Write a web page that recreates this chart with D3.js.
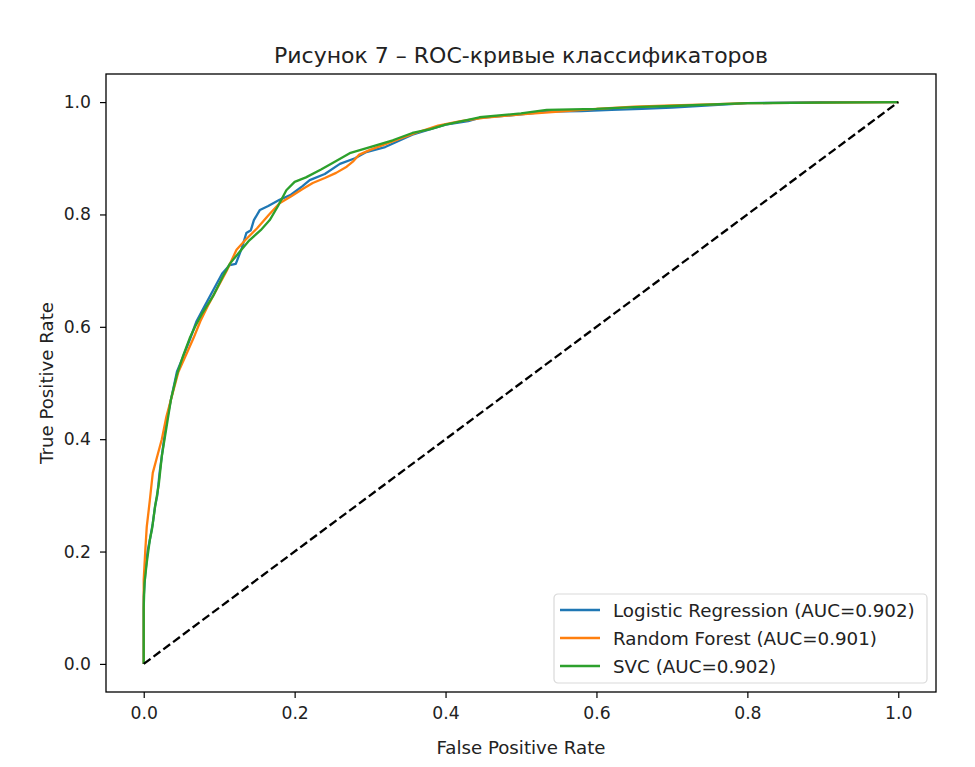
<!DOCTYPE html>
<html>
<head>
<meta charset="utf-8">
<script src="https://cdn.jsdelivr.net/npm/d3@7"></script>
<style>
  body { margin: 0; background: #fff; }
  text { font-family: "DejaVu Sans", sans-serif; fill: #222; }
</style>
</head>
<body>
<div id="chart"></div>
<script>
// ROC points: [fpr, tpr]
var logRegRoc = [[0,0],[0,0.12],[0.002,0.16],[0.005,0.2],[0.008,0.22],[0.012,0.25],[0.015,0.28],[0.018,0.3],[0.021,0.34],[0.025,0.38],[0.03,0.43],[0.036,0.47],[0.044,0.52],[0.052,0.546],[0.061,0.577],[0.07,0.61],[0.08,0.635],[0.092,0.665],[0.104,0.695],[0.114,0.71],[0.122,0.712],[0.13,0.74],[0.136,0.767],[0.142,0.772],[0.146,0.79],[0.154,0.808],[0.165,0.815],[0.18,0.826],[0.195,0.835],[0.21,0.85],[0.22,0.861],[0.24,0.872],[0.26,0.89],[0.28,0.9],[0.295,0.911],[0.32,0.92],[0.356,0.942],[0.38,0.952],[0.4,0.96],[0.43,0.966],[0.445,0.972],[0.5,0.978],[0.534,0.983],[0.58,0.984],[0.62,0.986],[0.66,0.988],[0.7,0.99],[0.75,0.994],[0.8,0.998],[0.85,0.999],[0.9,1],[1,1]];
var forestRoc = [[0,0],[0,0.15],[0.002,0.2],[0.004,0.244],[0.008,0.29],[0.012,0.34],[0.018,0.37],[0.024,0.4],[0.03,0.44],[0.038,0.48],[0.046,0.52],[0.056,0.55],[0.066,0.58],[0.075,0.61],[0.086,0.64],[0.098,0.67],[0.11,0.7],[0.123,0.737],[0.135,0.755],[0.15,0.775],[0.165,0.798],[0.18,0.82],[0.195,0.832],[0.21,0.845],[0.224,0.856],[0.24,0.865],[0.255,0.874],[0.269,0.885],[0.278,0.895],[0.285,0.906],[0.3,0.915],[0.33,0.93],[0.36,0.945],[0.39,0.958],[0.42,0.966],[0.45,0.972],[0.5,0.978],[0.55,0.983],[0.6,0.988],[0.65,0.992],[0.7,0.994],[0.75,0.996],[0.8,0.998],[0.9,0.999],[1,1]];
var svcRoc = [[0,0],[0,0.1],[0.001,0.144],[0.004,0.18],[0.008,0.22],[0.011,0.24],[0.015,0.28],[0.02,0.32],[0.024,0.37],[0.03,0.42],[0.036,0.47],[0.044,0.515],[0.052,0.548],[0.061,0.58],[0.068,0.6],[0.078,0.625],[0.092,0.655],[0.105,0.69],[0.114,0.712],[0.125,0.73],[0.14,0.754],[0.155,0.772],[0.167,0.79],[0.178,0.815],[0.189,0.843],[0.2,0.858],[0.215,0.866],[0.235,0.88],[0.255,0.895],[0.273,0.909],[0.3,0.92],[0.33,0.932],[0.356,0.945],[0.38,0.952],[0.4,0.96],[0.445,0.973],[0.5,0.98],[0.534,0.986],[0.6,0.988],[0.65,0.991],[0.7,0.993],[0.8,0.998],[0.9,0.999],[1,1]];
var chanceLine = [[0,0],[1,1]];

var seriesNames = ["Logistic Regression (AUC=0.902)", "Random Forest (AUC=0.901)", "SVC (AUC=0.902)"];
var seriesColors = ["#1f77b4", "#ff7f0e", "#2ca02c"];
var tickValues = [0, 0.2, 0.4, 0.6, 0.8, 1.0];

var svgWidth = 975;
var svgHeight = 767;

var margin = { top: 74, right: 39, bottom: 75, left: 106 };
var width = svgWidth - margin.left - margin.right;
var height = svgHeight - margin.top - margin.bottom;

var svg = d3.select("#chart")
    .append("svg")
    .attr("width", svgWidth)
    .attr("height", svgHeight);

var chartGroup = svg.append("g")
    .attr("transform", `translate(${margin.left}, ${margin.top})`);

var xScale = d3.scaleLinear().domain([-0.05, 1.05]).range([0, width]);
var yScale = d3.scaleLinear().domain([-0.05, 1.05]).range([height, 0]);

// axes
var bottomAxis = d3.axisBottom(xScale).tickValues(tickValues).tickFormat(d3.format(".1f")).tickSize(6).tickPadding(9);
var leftAxis = d3.axisLeft(yScale).tickValues(tickValues).tickFormat(d3.format(".1f")).tickSize(6).tickPadding(9);

var xAxis = chartGroup.append("g")
    .attr("transform", `translate(0, ${height})`)
    .call(bottomAxis);
var yAxis = chartGroup.append("g")
    .call(leftAxis);

[xAxis, yAxis].forEach(function (ax) {
    ax.select(".domain").remove();
    ax.selectAll("line").attr("stroke", "#000").attr("stroke-width", 1.2);
    ax.selectAll("text").style("font-size", "17.2px").attr("fill", "#222");
});

var line = d3.line()
    .x(d => xScale(d[0]))
    .y(d => yScale(d[1]));

// curves
[logRegRoc, forestRoc, svcRoc].forEach(function (pts, i) {
    chartGroup.append("path")
        .datum(pts)
        .attr("d", line)
        .attr("fill", "none")
        .attr("stroke", seriesColors[i])
        .attr("stroke-width", 2.3)
        .attr("stroke-linejoin", "round");
});

chartGroup.append("path")
    .datum(chanceLine)
    .attr("d", line)
    .attr("fill", "none")
    .attr("stroke", "#000")
    .attr("stroke-width", 2.3)
    .attr("stroke-dasharray", "8.5,3.7");

// frame
chartGroup.append("rect")
    .attr("width", width)
    .attr("height", height)
    .attr("fill", "none")
    .attr("stroke", "#000")
    .attr("stroke-width", 1.3);

// title + axis labels
svg.append("text")
    .attr("x", margin.left + width / 2)
    .attr("y", 63)
    .attr("text-anchor", "middle")
    .style("font-size", "22px")
    .text("Рисунок 7 – ROC-кривые классификаторов");

svg.append("text")
    .attr("x", margin.left + width / 2)
    .attr("y", 754)
    .attr("text-anchor", "middle")
    .style("font-size", "18.2px")
    .text("False Positive Rate");

svg.append("text")
    .attr("transform", `translate(53, ${margin.top + height / 2}) rotate(-90)`)
    .attr("text-anchor", "middle")
    .style("font-size", "18.2px")
    .text("True Positive Rate");

// legend
var legend = svg.append("g").attr("transform", "translate(554, 594)");
legend.append("rect")
    .attr("width", 373)
    .attr("height", 89)
    .attr("rx", 4)
    .attr("fill", "#fff")
    .attr("fill-opacity", 0.8)
    .attr("stroke", "#d9d9d9")
    .attr("stroke-width", 1.2);

seriesNames.forEach(function (name, i) {
    var yRow = 16 + i * 28;
    legend.append("line")
        .attr("x1", 6).attr("x2", 46)
        .attr("y1", yRow).attr("y2", yRow)
        .attr("stroke", seriesColors[i])
        .attr("stroke-width", 2.3);
    legend.append("text")
        .attr("x", 59)
        .attr("y", yRow + 6.5)
        .style("font-size", "18.3px")
        .text(name);
});
</script>
</body>
</html>
